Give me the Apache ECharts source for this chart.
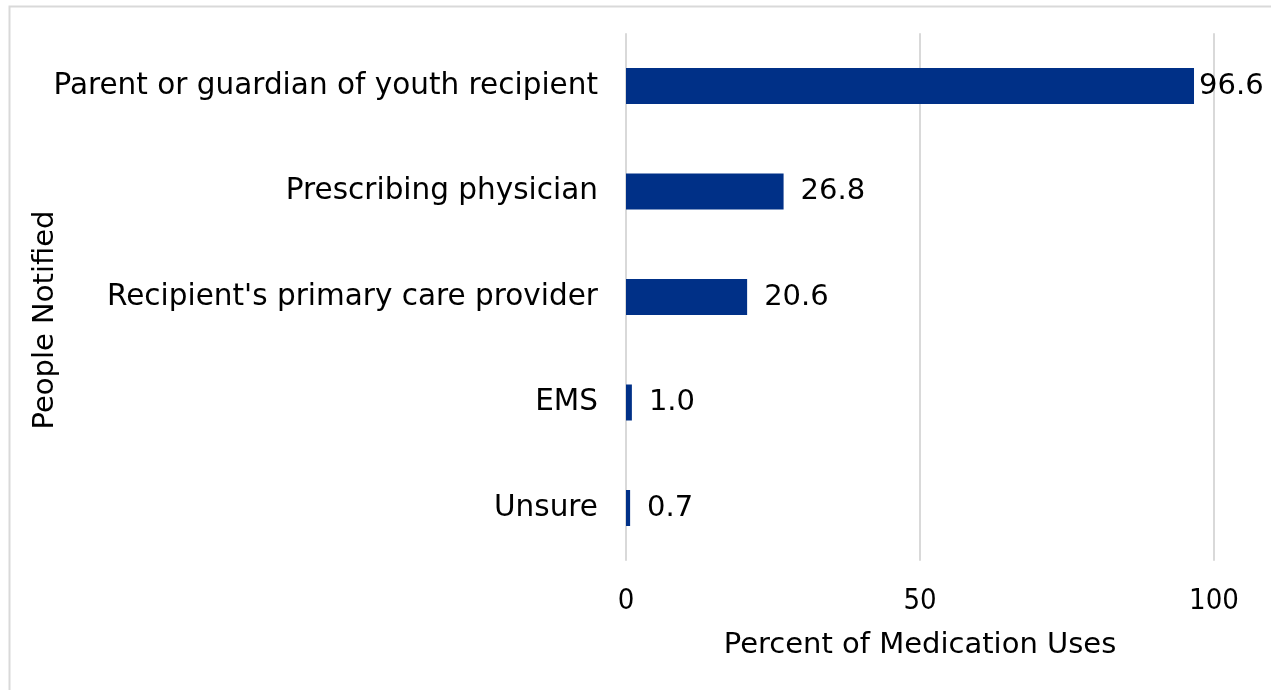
<!DOCTYPE html>
<html>
<head>
<meta charset="utf-8">
<script src="https://cdn.jsdelivr.net/npm/echarts@6/dist/echarts.min.js"></script>
<style>
html,body{margin:0;padding:0;background:#fff;}
#chart{width:1271px;height:690px;}
</style>
</head>
<body>
<div id="chart"></div>
<script>
const categories = ["Parent or guardian of youth recipient", "Prescribing physician", "Recipient's primary care provider", "EMS", "Unsure"];
const values = [96.6, 26.8, 20.6, 1.0, 0.7];
const xTicks = [0, 50, 100];
const xAxisTitle = "Percent of Medication Uses";
const yAxisTitle = "People Notified";

const FS = 29.5;
const chart = echarts.init(document.getElementById('chart'));
chart.setOption({
  animation: false,
  backgroundColor: '#fff',
  graphic: [
    { type: 'rect', left: 7, top: 4, shape: { x: 0, y: 0, width: 1290, height: 720 }, style: { fill: 'none', stroke: '#d9d9d9', lineWidth: 2 }, z: -1 },
    { type: 'text', x: 45, y: 320, rotation: Math.PI / 2, style: { text: yAxisTitle, font: '29px "DejaVu Sans"', fill: '#000', textAlign: 'center', textVerticalAlign: 'middle' } }
  ],
  grid: { left: 626, right: 57, top: 33.25, bottom: 129.25, containLabel: false },
  xAxis: {
    type: 'value', min: 0, max: 100, interval: 50,
    axisLine: { show: false }, axisTick: { show: false },
    splitLine: { show: true, lineStyle: { color: '#d9d9d9', width: 2 } },
    axisLabel: { margin: 26, fontSize: 29, fontFamily: 'DejaVu Sans Condensed', color: '#000',
      formatter: v => xTicks.includes(v) ? String(v) : '' },
    name: xAxisTitle, nameLocation: 'middle', nameGap: 70,
    nameTextStyle: { fontSize: 29, fontFamily: 'DejaVu Sans', color: '#000' }
  },
  yAxis: {
    type: 'category', data: categories, inverse: true,
    axisLine: { show: false }, axisTick: { show: false },
    axisLabel: { margin: 28, fontSize: FS, fontFamily: 'DejaVu Sans', color: '#000' }
  },
  series: [{
    type: 'bar',
    data: values.map((v, i) => i === 0 ? { value: v, label: { distance: 5 } } : v),
    barWidth: 36,
    itemStyle: { color: '#003087' },
    label: { show: true, position: 'right', distance: 17, fontSize: 29, fontFamily: 'DejaVu Sans', color: '#000',
      formatter: p => p.value.toFixed(1) }
  }]
});
</script>
</body>
</html>
